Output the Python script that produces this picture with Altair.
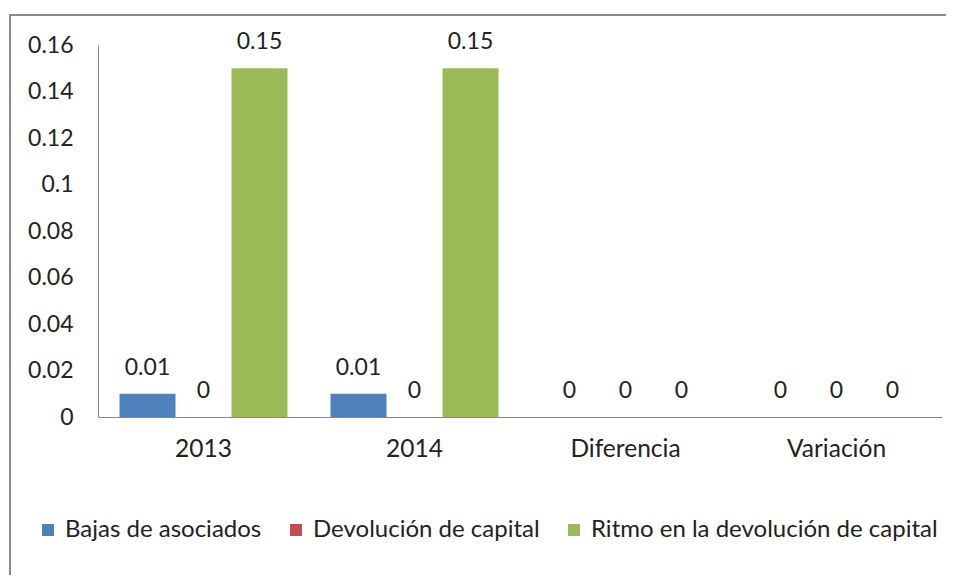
import altair as alt
import pandas as pd

categories = ["2013", "2014", "Diferencia", "Variación"]
series = ["Bajas de asociados", "Devolución de capital", "Ritmo en la devolución de capital"]
bajas = [0.01, 0.01, 0, 0]
devolucion = [0, 0, 0, 0]
ritmo = [0.15, 0.15, 0, 0]
colors = ["#4F81BD", "#C0504D", "#9BBB59"]

rows = []
for i, c in enumerate(categories):
    for s, vals in zip(series, [bajas, devolucion, ritmo]):
        rows.append({"cat": c, "serie": s, "valor": vals[i]})
df = pd.DataFrame(rows)

FONT = "Lato"
FS = 23
FS_TXT = 24.5
FS_LEG = 24
TXT = "#222222"

x = alt.X("cat:N", sort=categories, title=None,
          scale=alt.Scale(paddingInner=0, paddingOuter=0),
          axis=alt.Axis(labelAngle=0, ticks=False, domainColor="#868686", domainWidth=1,
                        labelFont=FONT, labelFontSize=FS_TXT, labelColor=TXT, labelPadding=20))
xo = alt.XOffset("serie:N", sort=series, scale=alt.Scale(paddingInner=0, paddingOuter=0.384))
y = alt.Y("valor:Q", title=None,
          scale=alt.Scale(domain=[0, 0.16], nice=False),
          axis=alt.Axis(values=[0, 0.02, 0.04, 0.06, 0.08, 0.1, 0.12, 0.14, 0.16],
                        format="~g", grid=False, ticks=False, domainColor="#868686", domainWidth=1,
                        labelFont=FONT, labelFontSize=FS, labelColor=TXT, labelPadding=25))
color = alt.Color("serie:N", sort=series, scale=alt.Scale(domain=series, range=colors),
                  legend=alt.Legend(title=None, orient="none", direction="horizontal",
                                    legendX=-62, legendY=473, symbolType="square",
                                    symbolSize=144, symbolStrokeWidth=0, labelFont=FONT,
                                    labelFontSize=FS_LEG, labelColor=TXT, labelOffset=5,
                                    labelLimit=600, columnPadding=22))

base = alt.Chart(df)
bars = base.mark_bar().encode(x=x, xOffset=xo, y=y, color=color)
labels = base.mark_text(font=FONT, fontSize=FS, color=TXT, baseline="alphabetic", dy=-19).encode(
    x=x, xOffset=xo, y=y, text=alt.Text("valor:Q", format="~g"))

frame_df = pd.DataFrame({"k": [0]})
left_border = alt.Chart(frame_df).mark_rule(color="#8a8a8a", strokeWidth=2, clip=False).encode(
    x=alt.value(-88), y=alt.value(-30), y2=alt.value(560))
top_border = alt.Chart(frame_df).mark_rule(color="#8a8a8a", strokeWidth=2, clip=False).encode(
    x=alt.value(-89), x2=alt.value(870), y=alt.value(-30))

chart = alt.layer(bars, labels, left_border, top_border).properties(
    width=844, height=372,
    autosize=alt.AutoSizeParams(type="none"),
    padding={"left": 90, "top": 37, "right": 4, "bottom": 158},
).configure(background="white").configure_view(stroke=None)

chart.save("out.html", embed_options={"renderer": "svg", "actions": False})
